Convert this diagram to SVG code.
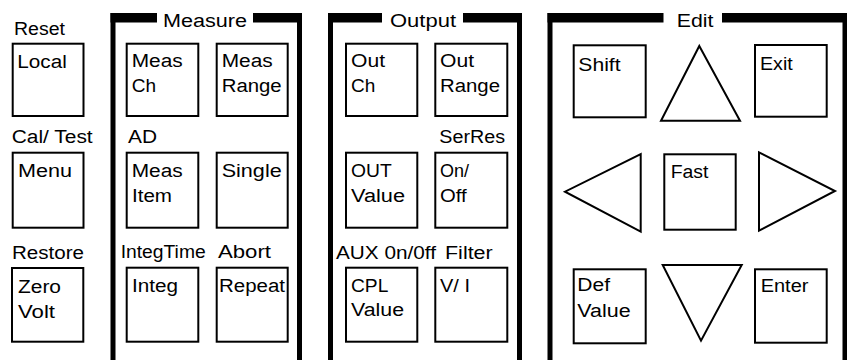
<svg xmlns="http://www.w3.org/2000/svg" width="847" height="360" viewBox="0 0 847 360">
<style>
  .key { fill: #fff; stroke: #000; stroke-width: 2; }
  .frame { fill: #000; }
  text { font-family: "Liberation Sans", Arial, sans-serif; font-size: 18px; fill: #000; }
</style>
<rect width="847" height="360" fill="#fff"/>

<g id="panel-measure">
  <rect class="frame" x="110.5" y="13" width="46.5" height="9.5"/>
  <rect class="frame" x="253" y="13" width="49" height="9.5"/>
  <rect class="frame" x="110.5" y="13" width="5" height="347"/>
  <rect class="frame" x="297" y="13" width="5" height="347"/>
  <text x="163" y="26.5" textLength="84" lengthAdjust="spacingAndGlyphs">Measure</text>
</g>
<g id="panel-output">
  <rect class="frame" x="328" y="13" width="54" height="9.5"/>
  <rect class="frame" x="463" y="13" width="59" height="9.5"/>
  <rect class="frame" x="328" y="13" width="5" height="347"/>
  <rect class="frame" x="517" y="13" width="5" height="347"/>
  <text x="390" y="26.5" textLength="66" lengthAdjust="spacingAndGlyphs">Output</text>
</g>
<g id="panel-edit">
  <rect class="frame" x="547.5" y="13" width="116" height="9.5"/>
  <rect class="frame" x="722" y="13" width="125" height="9.5"/>
  <rect class="frame" x="547.5" y="13" width="5" height="347"/>
  <rect class="frame" x="842.5" y="13" width="4.5" height="347"/>
  <text x="676.7" y="26.5" textLength="36.7" lengthAdjust="spacingAndGlyphs">Edit</text>
</g>

<g id="labels">
  <text x="14" y="35" textLength="51" lengthAdjust="spacingAndGlyphs">Reset</text>
  <text x="11.7" y="142.7" textLength="81" lengthAdjust="spacingAndGlyphs">Cal/ Test</text>
  <text x="12" y="259" textLength="72" lengthAdjust="spacingAndGlyphs">Restore</text>
  <text x="128" y="142.7" textLength="29" lengthAdjust="spacingAndGlyphs">AD</text>
  <text x="120.7" y="257.7" textLength="85" lengthAdjust="spacingAndGlyphs">IntegTime</text>
  <text x="218" y="257.7" textLength="53" lengthAdjust="spacingAndGlyphs">Abort</text>
  <text x="439.3" y="143.3" textLength="65.7" lengthAdjust="spacingAndGlyphs">SerRes</text>
  <text x="336" y="258.5" textLength="100" lengthAdjust="spacingAndGlyphs">AUX 0n/0ff</text>
  <text x="445" y="258.5" textLength="47.7" lengthAdjust="spacingAndGlyphs">Filter</text>
</g>

<g id="key-local">
  <rect class="key" x="12.7" y="43.7" width="70.8" height="72.3"/>
  <text x="17.3" y="67.7" textLength="49.5" lengthAdjust="spacingAndGlyphs">Local</text>
</g>
<g id="key-menu">
  <rect class="key" x="12.7" y="152.7" width="70.8" height="75"/>
  <text x="18" y="176.7" textLength="54" lengthAdjust="spacingAndGlyphs">Menu</text>
</g>
<g id="key-zero-volt">
  <rect class="key" x="12" y="268" width="71.3" height="73.7"/>
  <text x="18" y="293.3" textLength="43" lengthAdjust="spacingAndGlyphs">Zero</text>
  <text x="18" y="317.7" textLength="37" lengthAdjust="spacingAndGlyphs">Volt</text>
</g>

<g id="key-meas-ch">
  <rect class="key" x="126.7" y="43.7" width="71.6" height="72.3"/>
  <text x="131.7" y="66.7" textLength="51" lengthAdjust="spacingAndGlyphs">Meas</text>
  <text x="131.7" y="91.7" textLength="24.3" lengthAdjust="spacingAndGlyphs">Ch</text>
</g>
<g id="key-meas-range">
  <rect class="key" x="216.7" y="43.7" width="71" height="72.3"/>
  <text x="221.7" y="66.7" textLength="51" lengthAdjust="spacingAndGlyphs">Meas</text>
  <text x="221.7" y="91.7" textLength="60" lengthAdjust="spacingAndGlyphs">Range</text>
</g>
<g id="key-meas-item">
  <rect class="key" x="126.7" y="152.7" width="71.6" height="75"/>
  <text x="131.7" y="176.7" textLength="51" lengthAdjust="spacingAndGlyphs">Meas</text>
  <text x="132" y="201.7" textLength="40" lengthAdjust="spacingAndGlyphs">Item</text>
</g>
<g id="key-single">
  <rect class="key" x="216.7" y="152.7" width="71" height="75"/>
  <text x="221.7" y="176.7" textLength="60" lengthAdjust="spacingAndGlyphs">Single</text>
</g>
<g id="key-integ">
  <rect class="key" x="126.7" y="267.7" width="71.6" height="74"/>
  <text x="132" y="291.5" textLength="46" lengthAdjust="spacingAndGlyphs">Integ</text>
</g>
<g id="key-repeat">
  <rect class="key" x="216.7" y="267.7" width="71" height="74"/>
  <text x="219" y="291.5" textLength="66" lengthAdjust="spacingAndGlyphs">Repeat</text>
</g>

<g id="key-out-ch">
  <rect class="key" x="346" y="43.7" width="71.3" height="72.3"/>
  <text x="351" y="66.7" textLength="34" lengthAdjust="spacingAndGlyphs">Out</text>
  <text x="351" y="91.7" textLength="24.3" lengthAdjust="spacingAndGlyphs">Ch</text>
</g>
<g id="key-out-range">
  <rect class="key" x="435.3" y="43.7" width="72" height="72.3"/>
  <text x="440" y="66.7" textLength="34" lengthAdjust="spacingAndGlyphs">Out</text>
  <text x="440" y="91.7" textLength="60" lengthAdjust="spacingAndGlyphs">Range</text>
</g>
<g id="key-out-value">
  <rect class="key" x="346" y="152.7" width="71.3" height="75"/>
  <text x="351" y="176.7" textLength="40.7" lengthAdjust="spacingAndGlyphs">OUT</text>
  <text x="351" y="201.7" textLength="54" lengthAdjust="spacingAndGlyphs">Value</text>
</g>
<g id="key-on-off">
  <rect class="key" x="435.3" y="152.7" width="72" height="75"/>
  <text x="440" y="176.7">On/</text>
  <text x="440" y="201.7" textLength="26.7" lengthAdjust="spacingAndGlyphs">Off</text>
</g>
<g id="key-cpl-value">
  <rect class="key" x="346" y="267.7" width="71.3" height="74"/>
  <text x="351" y="291.7" textLength="37.3" lengthAdjust="spacingAndGlyphs">CPL</text>
  <text x="351" y="316" textLength="53" lengthAdjust="spacingAndGlyphs">Value</text>
</g>
<g id="key-v-i">
  <rect class="key" x="435.3" y="267.7" width="72" height="74"/>
  <text x="440" y="291.7" textLength="30" lengthAdjust="spacingAndGlyphs">V/ I</text>
</g>

<g id="key-shift">
  <rect class="key" x="573.7" y="45.3" width="72" height="72"/>
  <text x="578.3" y="71" textLength="42.3" lengthAdjust="spacingAndGlyphs">Shift</text>
</g>
<g id="key-up">
  <polygon class="key" points="699.3,46 740,120.7 661,120.7"/>
</g>
<g id="key-exit">
  <rect class="key" x="755" y="45" width="71.7" height="71.7"/>
  <text x="760" y="70" textLength="32.7" lengthAdjust="spacingAndGlyphs">Exit</text>
</g>
<g id="key-left">
  <polygon class="key" points="640.7,154 640.7,231.7 565,191.7"/>
</g>
<g id="key-fast">
  <rect class="key" x="664.3" y="154.3" width="71.4" height="75.4"/>
  <text x="670.7" y="178.3" textLength="37.7" lengthAdjust="spacingAndGlyphs">Fast</text>
</g>
<g id="key-right">
  <polygon class="key" points="759,152.3 835,191 759,230.7"/>
</g>
<g id="key-def-value">
  <rect class="key" x="573.7" y="269.3" width="72" height="74"/>
  <text x="577.3" y="291" textLength="32.7" lengthAdjust="spacingAndGlyphs">Def</text>
  <text x="577.3" y="316.7" textLength="53.3" lengthAdjust="spacingAndGlyphs">Value</text>
</g>
<g id="key-down">
  <polygon class="key" points="662.7,265 741.7,265 701,340.7"/>
</g>
<g id="key-enter">
  <rect class="key" x="755" y="269.3" width="71.7" height="73.4"/>
  <text x="760.7" y="291.7" textLength="47.7" lengthAdjust="spacingAndGlyphs">Enter</text>
</g>

<g id="connectors"></g>
</svg>
